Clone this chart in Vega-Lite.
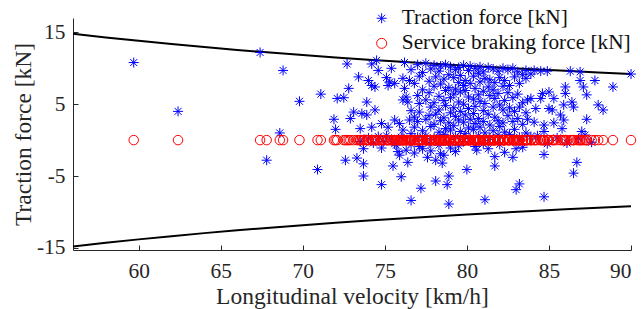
{
"$schema": "https://vega.github.io/schema/vega-lite/v6.json",
"width": 558, "height": 232,
"autosize": {"type": "none"},
"padding": {"left": 73, "top": 18, "right": 13, "bottom": 59},
"background": "white",
"config": {
  "view": {"stroke": null},
  "font": "Liberation Serif",
  "axis": {"grid": false, "domainColor": "#262626", "tickColor": "#262626", "labelColor": "#262626", "titleColor": "#262626",
    "labelFont": "Liberation Serif", "titleFont": "Liberation Serif", "labelFontSize": 21.4, "titleFontSize": 23.5, "titleFontWeight": "normal",
    "tickSize": -5, "domainWidth": 1, "tickWidth": 1}
},
"datasets": {
"lim": [
{"v":56,"up":14.80,"lo":-14.80},{"v":58,"up":14.29,"lo":-14.29},{"v":60,"up":13.82,"lo":-13.82},{"v":62,"up":13.37,"lo":-13.37},
{"v":64,"up":12.95,"lo":-12.95},{"v":66,"up":12.56,"lo":-12.56},{"v":68,"up":12.19,"lo":-12.19},{"v":70,"up":11.84,"lo":-11.84},
{"v":72,"up":11.51,"lo":-11.51},{"v":74,"up":11.20,"lo":-11.20},{"v":76,"up":10.91,"lo":-10.91},{"v":78,"up":10.63,"lo":-10.63},
{"v":80,"up":10.36,"lo":-10.36},{"v":82,"up":10.11,"lo":-10.11},{"v":84,"up":9.87,"lo":-9.87},{"v":86,"up":9.64,"lo":-9.64},
{"v":88,"up":9.42,"lo":-9.42},{"v":90,"up":9.21,"lo":-9.21}
],
"pts": [
{"v":59.7,"t":10.8,"b":0},{"v":62.4,"t":4.0,"b":0},{"v":67.4,"t":12.2,"b":0},{"v":67.8,"t":-2.8,"b":0},{"v":68.6,"t":1.0,"b":0},
{"v":68.8,"t":9.7,"b":0},{"v":69.8,"t":5.4,"b":0},{"v":70.9,"t":-4.1,"b":0},{"v":71.1,"t":6.4,"b":0},{"v":71.9,"t":2.9,"b":0},
{"v":72.0,"t":1.5,"b":0},{"v":72.1,"t":5.8,"b":0},{"v":72.5,"t":5.9,"b":0},{"v":72.6,"t":-2.8,"b":0},{"v":72.7,"t":10.6,"b":0},
{"v":72.8,"t":7.2,"b":0},{"v":72.9,"t":3.0,"b":0},{"v":73.1,"t":3.9,"b":0},{"v":73.3,"t":-2.5,"b":0},{"v":73.4,"t":8.8,"b":0},
{"v":73.5,"t":1.6,"b":0},{"v":73.5,"t":-0.2,"b":0},{"v":73.6,"t":3.7,"b":0},{"v":73.7,"t":-3.3,"b":0},{"v":73.7,"t":-5.0,"b":0},
{"v":73.7,"t":-1.2,"b":0},{"v":73.9,"t":5.3,"b":0},{"v":73.9,"t":3.5,"b":0},{"v":74.0,"t":8.3,"b":0},{"v":74.2,"t":10.6,"b":0},
{"v":74.2,"t":7.6,"b":0},{"v":74.2,"t":1.8,"b":0},{"v":74.4,"t":7.4,"b":0},{"v":74.4,"t":4.2,"b":0},{"v":74.5,"t":11.1,"b":0},
{"v":74.6,"t":9.7,"b":0},{"v":74.8,"t":2.3,"b":0},{"v":74.8,"t":-6.2,"b":0},{"v":74.8,"t":-1.1,"b":0},{"v":75.1,"t":8.7,"b":0},
{"v":75.2,"t":7.6,"b":0},{"v":75.2,"t":1.8,"b":0},{"v":75.3,"t":8.1,"b":0},{"v":75.4,"t":10.0,"b":0},{"v":75.5,"t":-3.6,"b":0},
{"v":75.6,"t":7.9,"b":0},{"v":75.6,"t":2.8,"b":0},{"v":75.6,"t":-0.5,"b":0},{"v":75.8,"t":-1.6,"b":0},{"v":75.9,"t":2.3,"b":0},
{"v":75.9,"t":-2.1,"b":0},{"v":76.0,"t":-5.1,"b":0},{"v":76.1,"t":8.6,"b":0},{"v":76.1,"t":5.6,"b":0},{"v":76.1,"t":1.4,"b":0},
{"v":76.2,"t":10.8,"b":0},{"v":76.2,"t":7.2,"b":0},{"v":76.3,"t":6.0,"b":0},{"v":76.3,"t":-1.4,"b":0},{"v":76.4,"t":5.3,"b":0},
{"v":76.4,"t":-3.1,"b":0},{"v":76.5,"t":8.3,"b":0},{"v":76.5,"t":2.8,"b":0},{"v":76.6,"t":-8.4,"b":0},
{"v":74.0,"t":0.3,"b":0},{"v":74.3,"t":-0.4,"b":0},{"v":74.6,"t":0.5,"b":0},{"v":74.9,"t":-0.2,"b":0},{"v":75.1,"t":0.6,"b":0},
{"v":75.4,"t":0.1,"b":0},{"v":75.7,"t":-0.7,"b":0},{"v":76.0,"t":0.4,"b":0},
{"v":77.2,"t":-6.7,"b":0},{"v":77.6,"t":-2.4,"b":0},{"v":78.1,"t":-2.8,"b":0},{"v":78.5,"t":-3.2,"b":0},{"v":78.6,"t":-2.1,"b":0},
{"v":78.1,"t":-5.7,"b":0},{"v":78.9,"t":-5.0,"b":0},{"v":78.8,"t":-6.2,"b":0},{"v":78.9,"t":-8.9,"b":0},{"v":79.3,"t":-1.6,"b":0},
{"v":80.0,"t":-4.1,"b":0},{"v":80.6,"t":-1.4,"b":0},{"v":81.1,"t":-8.3,"b":0},{"v":81.3,"t":-1.2,"b":0},{"v":81.7,"t":-2.3,"b":0},
{"v":81.7,"t":-3.6,"b":0},{"v":82.8,"t":-2.4,"b":0},{"v":83.0,"t":-1.2,"b":0},{"v":83.0,"t":-6.9,"b":0},{"v":83.2,"t":-6.1,"b":0},
{"v":84.7,"t":-2.0,"b":0},{"v":84.7,"t":-7.9,"b":0},{"v":86.5,"t":-4.6,"b":0},{"v":86.7,"t":-3.1,"b":0},{"v":77.3,"t":-1.2,"b":0},
{"v":76.6,"t":9.8,"b":0},{"v":76.6,"t":4.1,"b":0},{"v":76.6,"t":0.9,"b":0},{"v":76.6,"t":-0.6,"b":0},
{"v":76.8,"t":7.9,"b":0},{"v":76.8,"t":3.2,"b":0},{"v":76.8,"t":1.8,"b":0},{"v":76.8,"t":-1.8,"b":0},
{"v":77.0,"t":10.5,"b":0},{"v":77.0,"t":6.2,"b":0},{"v":77.0,"t":2.6,"b":0},{"v":77.0,"t":0.4,"b":0},
{"v":77.1,"t":8.9,"b":0},{"v":77.1,"t":5.1,"b":0},{"v":77.1,"t":-0.9,"b":0},{"v":77.1,"t":3.9,"b":0},
{"v":77.3,"t":9.4,"b":0},{"v":77.3,"t":7.0,"b":0},{"v":77.3,"t":1.3,"b":0},
{"v":77.5,"t":10.7,"b":0},{"v":77.5,"t":5.6,"b":0},{"v":77.5,"t":2.9,"b":0},{"v":77.5,"t":0.6,"b":0},
{"v":77.7,"t":8.2,"b":0},{"v":77.7,"t":6.6,"b":0},{"v":77.7,"t":3.4,"b":0},{"v":77.7,"t":-0.4,"b":0},
{"v":77.8,"t":9.9,"b":0},{"v":77.8,"t":4.6,"b":0},{"v":77.8,"t":1.9,"b":0},{"v":77.8,"t":-1.5,"b":0},
{"v":78.0,"t":10.4,"b":0},{"v":78.0,"t":7.5,"b":0},{"v":78.0,"t":5.2,"b":0},{"v":78.0,"t":2.2,"b":0},{"v":78.0,"t":0.3,"b":0},
{"v":78.1,"t":8.8,"b":0},{"v":78.1,"t":3.6,"b":0},
{"v":78.3,"t":9.6,"b":0},{"v":78.3,"t":6.1,"b":0},{"v":78.3,"t":4.2,"b":0},{"v":78.3,"t":1.1,"b":0},{"v":78.3,"t":-0.7,"b":0},
{"v":78.4,"t":10.3,"b":0},{"v":78.4,"t":7.8,"b":0},{"v":78.4,"t":2.7,"b":0},{"v":78.4,"t":-1.9,"b":0},
{"v":78.6,"t":8.5,"b":0},{"v":78.6,"t":5.5,"b":0},{"v":78.6,"t":3.1,"b":0},{"v":78.6,"t":0.8,"b":0},
{"v":78.7,"t":10.5,"b":0},{"v":78.7,"t":6.9,"b":0},{"v":78.7,"t":4.8,"b":0},{"v":78.7,"t":1.6,"b":0},
{"v":78.9,"t":9.1,"b":0},{"v":78.9,"t":7.3,"b":0},{"v":78.9,"t":2.4,"b":0},{"v":78.9,"t":-0.3,"b":0},
{"v":79.0,"t":10.2,"b":0},{"v":79.0,"t":5.9,"b":0},{"v":79.0,"t":3.8,"b":0},{"v":79.0,"t":1.4,"b":0},{"v":79.0,"t":-1.1,"b":0},
{"v":79.2,"t":8.7,"b":0},{"v":79.2,"t":6.4,"b":0},{"v":79.2,"t":4.5,"b":0},{"v":79.2,"t":2.0,"b":0},
{"v":79.3,"t":9.8,"b":0},{"v":79.3,"t":7.1,"b":0},{"v":79.3,"t":3.3,"b":0},{"v":79.3,"t":0.5,"b":0},
{"v":79.5,"t":10.1,"b":0},{"v":79.5,"t":8.0,"b":0},{"v":79.5,"t":5.3,"b":0},{"v":79.5,"t":2.8,"b":0},{"v":79.5,"t":-0.8,"b":0},
{"v":79.6,"t":9.0,"b":0},{"v":79.6,"t":6.7,"b":0},{"v":79.6,"t":4.0,"b":0},{"v":79.6,"t":1.2,"b":0},
{"v":79.8,"t":10.4,"b":0},{"v":79.8,"t":7.6,"b":0},{"v":79.8,"t":5.0,"b":0},{"v":79.8,"t":2.5,"b":0},{"v":79.8,"t":-0.2,"b":0},
{"v":79.9,"t":8.3,"b":0},{"v":79.9,"t":6.9,"b":0},{"v":79.9,"t":3.5,"b":0},{"v":79.9,"t":0.9,"b":0},
{"v":80.1,"t":9.7,"b":0},{"v":80.1,"t":6.0,"b":0},{"v":80.1,"t":4.4,"b":0},{"v":80.1,"t":1.7,"b":0},
{"v":80.2,"t":10.3,"b":0},{"v":80.2,"t":7.9,"b":0},{"v":80.2,"t":2.9,"b":0},{"v":80.2,"t":0.2,"b":0},
{"v":80.4,"t":8.9,"b":0},{"v":80.4,"t":5.7,"b":0},{"v":80.4,"t":3.7,"b":0},{"v":80.4,"t":1.5,"b":0},
{"v":80.5,"t":10.0,"b":0},{"v":80.5,"t":7.2,"b":0},{"v":80.5,"t":4.7,"b":0},{"v":80.5,"t":2.3,"b":0},{"v":80.5,"t":-0.9,"b":0},
{"v":80.7,"t":9.3,"b":0},{"v":80.7,"t":6.3,"b":0},{"v":80.7,"t":3.0,"b":0},{"v":80.7,"t":0.6,"b":0},
{"v":80.8,"t":10.2,"b":0},{"v":80.8,"t":8.1,"b":0},{"v":80.8,"t":5.4,"b":0},{"v":80.8,"t":1.8,"b":0},
{"v":81.0,"t":9.5,"b":0},{"v":81.0,"t":6.8,"b":0},{"v":81.0,"t":4.1,"b":0},{"v":81.0,"t":2.6,"b":0},{"v":81.0,"t":-0.5,"b":0},
{"v":81.1,"t":8.6,"b":0},{"v":81.1,"t":5.1,"b":0},{"v":81.1,"t":1.0,"b":0},
{"v":81.3,"t":10.1,"b":0},{"v":81.3,"t":7.4,"b":0},{"v":81.3,"t":3.6,"b":0},
{"v":81.4,"t":8.4,"b":0},{"v":81.4,"t":6.2,"b":0},{"v":81.4,"t":2.1,"b":0},{"v":81.4,"t":0.3,"b":0},
{"v":81.6,"t":9.9,"b":0},{"v":81.6,"t":7.0,"b":0},{"v":81.6,"t":4.6,"b":0},{"v":81.6,"t":1.3,"b":0},
{"v":81.7,"t":8.0,"b":0},{"v":81.7,"t":5.8,"b":0},{"v":81.7,"t":3.2,"b":0},
{"v":81.9,"t":9.6,"b":0},{"v":81.9,"t":6.5,"b":0},{"v":81.9,"t":2.7,"b":0},{"v":81.9,"t":0.7,"b":0},
{"v":82.0,"t":8.7,"b":0},{"v":82.0,"t":4.9,"b":0},{"v":82.0,"t":1.9,"b":0},{"v":82.0,"t":-0.6,"b":0},
{"v":82.2,"t":10.0,"b":0},{"v":82.2,"t":7.5,"b":0},{"v":82.2,"t":4.2,"b":0},{"v":82.2,"t":2.4,"b":0},
{"v":82.3,"t":8.3,"b":0},{"v":82.3,"t":5.5,"b":0},{"v":82.3,"t":1.1,"b":0},{"v":82.3,"t":-1.7,"b":0},
{"v":82.5,"t":9.8,"b":0},{"v":82.5,"t":6.6,"b":0},{"v":82.5,"t":3.4,"b":0},
{"v":82.6,"t":7.6,"b":0},{"v":82.6,"t":4.5,"b":0},{"v":82.6,"t":0.8,"b":0},
{"v":82.8,"t":10.0,"b":0},{"v":82.8,"t":5.9,"b":0},{"v":82.8,"t":2.6,"b":0},
{"v":82.9,"t":8.8,"b":0},{"v":82.9,"t":4.0,"b":0},{"v":82.9,"t":1.5,"b":0},
{"v":83.1,"t":9.5,"b":0},{"v":83.1,"t":6.4,"b":0},{"v":83.1,"t":3.0,"b":0},
{"v":83.2,"t":7.9,"b":0},{"v":83.2,"t":4.6,"b":0},{"v":83.2,"t":0.4,"b":0},
{"v":83.4,"t":9.1,"b":0},{"v":83.4,"t":5.2,"b":0},{"v":83.4,"t":2.2,"b":0},{"v":83.4,"t":-1.0,"b":0},
{"v":83.6,"t":9.7,"b":0},{"v":83.6,"t":8.6,"b":0},{"v":83.6,"t":3.8,"b":0},{"v":83.6,"t":1.0,"b":0},
{"v":83.7,"t":5.6,"b":0},{"v":83.7,"t":2.9,"b":0},
{"v":83.9,"t":9.2,"b":0},{"v":83.9,"t":5.8,"b":0},{"v":83.9,"t":0.5,"b":0},
{"v":84.1,"t":9.7,"b":0},{"v":84.5,"t":9.6,"b":0},{"v":84.9,"t":9.6,"b":0},{"v":86.3,"t":9.6,"b":0},{"v":86.9,"t":9.5,"b":0},
{"v":90.0,"t":9.2,"b":0},{"v":86.9,"t":8.3,"b":0},{"v":87.8,"t":8.3,"b":0},{"v":88.9,"t":7.4,"b":0},{"v":87.1,"t":7.4,"b":0},
{"v":87.3,"t":6.3,"b":0},{"v":86.0,"t":7.4,"b":0},{"v":86.0,"t":6.5,"b":0},{"v":84.6,"t":6.5,"b":0},{"v":85.0,"t":6.7,"b":0},
{"v":84.5,"t":5.8,"b":0},{"v":85.3,"t":5.8,"b":0},{"v":84.2,"t":4.4,"b":0},{"v":85.0,"t":4.4,"b":0},{"v":85.2,"t":4.2,"b":0},
{"v":85.9,"t":4.9,"b":0},{"v":86.4,"t":5.3,"b":0},{"v":86.5,"t":4.6,"b":0},{"v":88.0,"t":4.9,"b":0},{"v":88.3,"t":4.2,"b":0},
{"v":85.7,"t":3.5,"b":0},{"v":85.9,"t":2.8,"b":0},{"v":85.8,"t":1.6,"b":0},{"v":87.3,"t":2.9,"b":0},{"v":85.3,"t":2.4,"b":0},
{"v":84.7,"t":2.1,"b":0},{"v":84.7,"t":1.2,"b":0},{"v":84.1,"t":2.5,"b":0},{"v":87.0,"t":1.2,"b":0},
{"v":84.3,"t":0.6,"b":0},{"v":84.9,"t":-0.5,"b":0},{"v":85.5,"t":0.3,"b":0},{"v":86.1,"t":-0.4,"b":0},{"v":86.8,"t":0.2,"b":0},
{"v":87.2,"t":0.7,"b":0},{"v":87.6,"t":-0.3,"b":0}
]
},
"layer": [
{"data": {"name": "lim"}, "mark": {"type": "line", "color": "#000000", "strokeWidth": 2},
 "encoding": {
  "x": {"field": "v", "type": "quantitative", "scale": {"domain": [56, 90], "nice": false, "zero": false},
        "axis": {"title": "Longitudinal velocity [km/h]", "values": [60, 65, 70, 75, 80, 85, 90], "labelPadding": 15, "titlePadding": 3}},
  "y": {"field": "up", "type": "quantitative", "scale": {"domain": [-15.3, 17], "nice": false, "zero": false},
        "axis": {"title": "Traction force [kN]", "values": [-15, -5, 5, 15], "labelPadding": 13, "titlePadding": 1,
                 "labelExpr": "datum.value < 0 ? '-' + abs(datum.value) : '' + datum.value"}}
 }},
{"data": {"name": "lim"}, "mark": {"type": "line", "color": "#000000", "strokeWidth": 2},
 "encoding": {
  "x": {"field": "v", "type": "quantitative"},
  "y": {"field": "lo", "type": "quantitative"}
 }},
{"data": {"name": "pts"}, "mark": {"type": "point", "filled": false, "strokeWidth": 1, "size": 100, "opacity": 1},
 "encoding": {
  "x": {"field": "v", "type": "quantitative"},
  "y": {"field": "t", "type": "quantitative"},
  "color": {"datum": "Traction force [kN]", "type": "nominal",
    "scale": {"domain": ["Traction force [kN]", "Service braking force [kN]"], "range": ["#0000ff", "#ff0000"]},
    "legend": {"title": null, "orient": "none", "legendX": 298, "legendY": -10.4, "padding": 0, "rowPadding": 3.1,
      "labelFont": "Liberation Serif", "labelFontSize": 21.3, "labelColor": "#111111", "labelOffset": 9.5,
      "symbolSize": 100, "symbolStrokeWidth": 1, "labelLimit": 400}},
  "shape": {"datum": "Traction force [kN]", "type": "nominal",
    "scale": {"domain": ["Traction force [kN]", "Service braking force [kN]"], "range": ["M0,-1L0,1M-1,0L1,0M-0.7,-0.7L0.7,0.7M-0.7,0.7L0.7,-0.7", "circle"]}}
 }},
{"data": {"name": "pts"}, "mark": {"type": "point", "filled": false, "strokeWidth": 1, "size": 90, "opacity": 1},
 "encoding": {
  "x": {"field": "v", "type": "quantitative"},
  "y": {"field": "b", "type": "quantitative"},
  "color": {"datum": "Service braking force [kN]", "type": "nominal"},
  "shape": {"datum": "Service braking force [kN]", "type": "nominal"}
 }}
]
}
